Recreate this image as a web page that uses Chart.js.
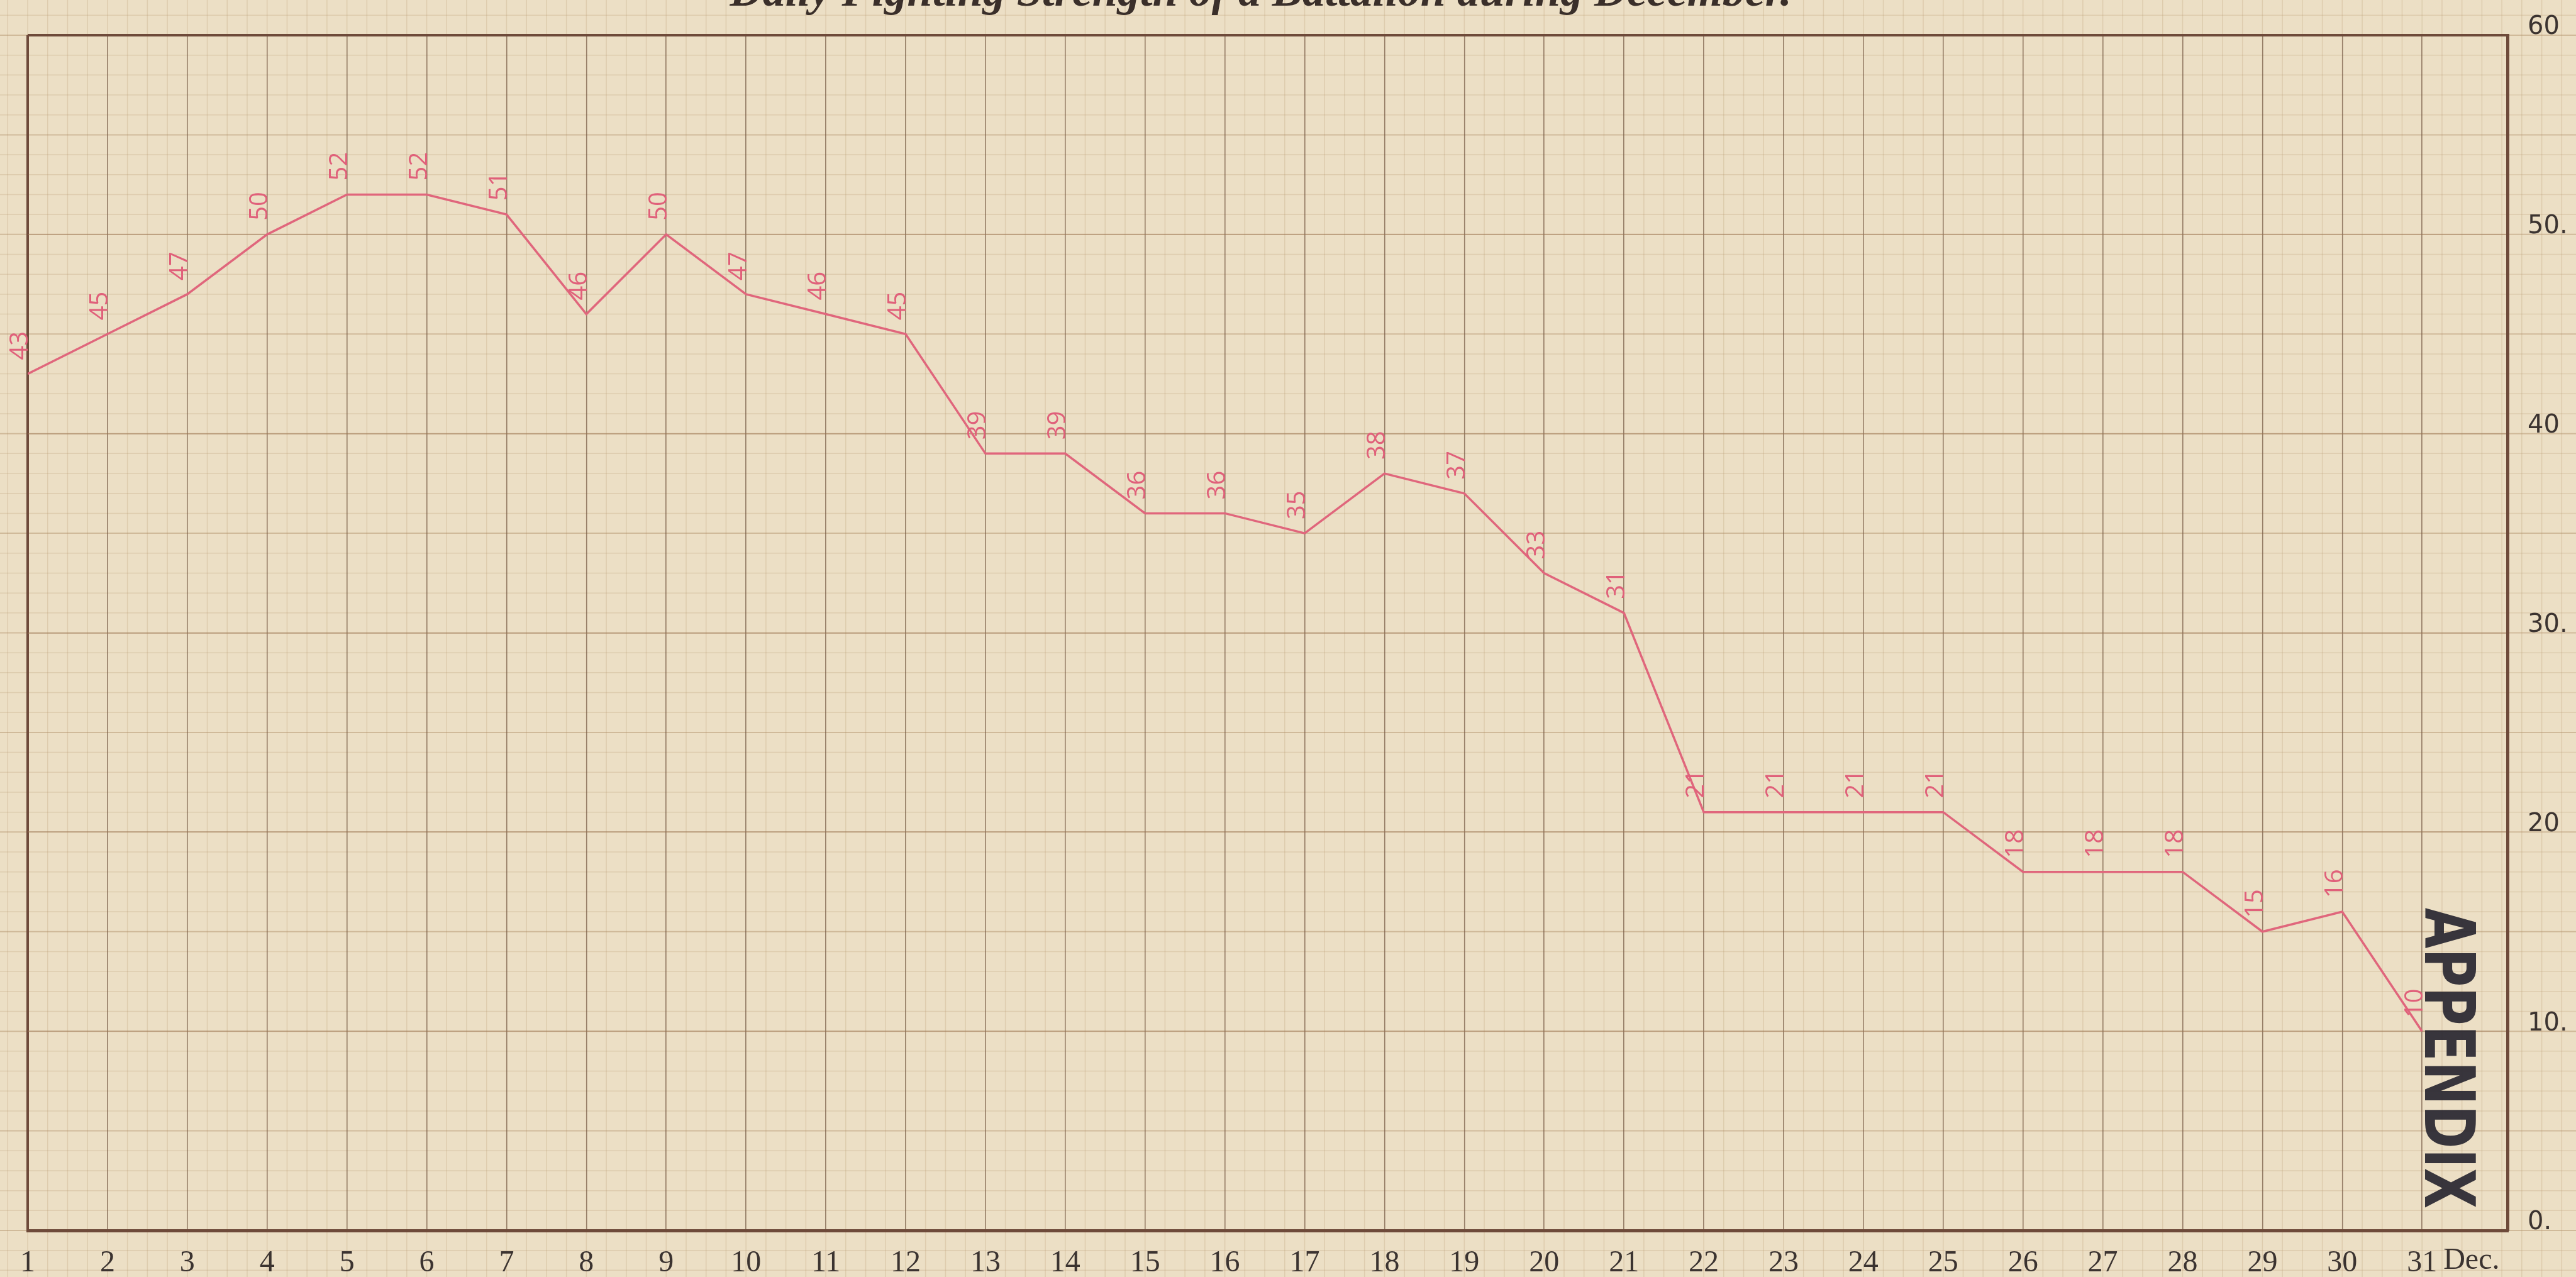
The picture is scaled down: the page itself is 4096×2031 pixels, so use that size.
<!DOCTYPE html>
<html>
<head>
<meta charset="utf-8">
<script src="https://cdn.jsdelivr.net/npm/chart.js@4.4.1/dist/chart.umd.min.js"></script>
<style>
    html, body { margin: 0; padding: 0; background: #ecdec4; overflow: hidden; }
    canvas { display: block; }
</style>
</head>
<body>
<canvas id="grafica" width="4096" height="2031"></canvas>
<script>
// datos (dias de diciembre)
const dias = [1, 2, 3, 4, 5, 6, 7, 8, 9, 10, 11, 12, 13, 14, 15, 16, 17, 18, 19, 20, 21, 22, 23, 24, 25, 26, 27, 28, 29, 30, 31];
const efectivos = [43, 45, 47, 50, 52, 52, 51, 46, 50, 47, 46, 45, 39, 39, 36, 36, 35, 38, 37, 33, 31, 21, 21, 21, 21, 18, 18, 18, 15, 16, 10];
const etiquetasDias = ['1', '2', '3', '4', '5', '6', '7', '8', '9', '10', '11', '12', '13', '14', '15', '16', '17', '18', '19', '20', '21', '22', '23', '24', '25', '26', '27', '28', '29', '30', '31'];
const mes = 'Dec.';
const valoresEjeY = [0, 10, 20, 30, 40, 50, 60];
const etiquetasEjeY = ['0.', '10.', '20', '30.', '40', '50.', '60'];
const titulo = 'Daily Fighting Strength of a Battalion during December.';
const sello = 'APPENDIX';

const tinta = '#6e4a3a';
const rojo = '#e0667c';

// papel cuadriculado detras y fuera del area del grafico
const papel = {
    id: 'papel',
    beforeDraw(chart) {
        const { ctx, width, height } = chart;
        const { x, y } = chart.scales;
        ctx.save();
        ctx.fillStyle = '#ecdfc5';
        ctx.fillRect(0, 0, width, height);
        ctx.strokeStyle = 'rgba(180, 150, 110, 0.26)';
        ctx.lineWidth = 1.5;
        for (let v = 0; v <= 33; v += 0.25) {
            const px = x.getPixelForValue(v);
            if (px < 0 || px > width) continue;
            ctx.beginPath();
            ctx.moveTo(px, 0);
            ctx.lineTo(px, height);
            ctx.stroke();
        }
        for (let v = -3; v <= 62; v++) {
            const py = y.getPixelForValue(v);
            if (py < 0 || py > height) continue;
            const fuerte = v % 5 === 0;
            ctx.strokeStyle = fuerte ? 'rgba(170, 135, 95, 0.42)' : 'rgba(180, 150, 110, 0.26)';
            ctx.lineWidth = fuerte ? 2 : 1.5;
            ctx.beginPath();
            ctx.moveTo(0, py);
            ctx.lineTo(width, py);
            ctx.stroke();
        }
        // titulo cortado arriba
        ctx.fillStyle = '#3a2f2a';
        ctx.font = 'italic bold 72px "Liberation Serif", serif';
        ctx.textAlign = 'center';
        ctx.textBaseline = 'alphabetic';
        ctx.fillText(titulo, x.getPixelForValue(16.45), 9, 2820);
        ctx.restore();
    }
};

// numeros rojos encima de cada punto, el mes y el sello
const anotaciones = {
    id: 'anotaciones',
    afterDatasetsDraw(chart) {
        const { ctx } = chart;
        const puntos = chart.getDatasetMeta(0).data;
        ctx.save();
        ctx.fillStyle = '#e0607a';
        ctx.font = '40px "Open Sans", "DejaVu Sans", sans-serif';
        ctx.textAlign = 'left';
        ctx.textBaseline = 'middle';
        puntos.forEach((p, i) => {
            ctx.save();
            ctx.translate(p.x - 11, p.y - 22);
            ctx.rotate(-Math.PI / 2);
            ctx.fillText(String(efectivos[i]), 0, 0);
            ctx.restore();
        });
        ctx.restore();
    },
    afterDraw(chart) {
        const { ctx } = chart;
        const { x, y } = chart.scales;
        ctx.save();
        // "Dec." despues del 31
        ctx.font = '48px "Liberation Serif", serif';
        ctx.fillStyle = '#3b3330';
        ctx.textAlign = 'left';
        ctx.textBaseline = 'top';
        const p31 = x.getPixelForValue(31);
        const ancho31 = ctx.measureText(etiquetasDias[30]).width;
        ctx.fillText(mes, p31 + ancho31 / 2 + 10, chart.chartArea.bottom + 24);

        // sello APPENDIX
        const sx = x.getPixelForValue(31.35);
        const sy = y.getPixelForValue(16.2);
        const largo = y.getPixelForValue(1.1) - sy;
        ctx.translate(sx, sy);
        ctx.rotate(Math.PI / 2);
        ctx.font = 'bold 110px "DejaVu Sans", sans-serif';
        ctx.fillStyle = 'rgba(40, 38, 48, 0.92)';
        ctx.textBaseline = 'alphabetic';
        ctx.fillText(sello, 0, 40, largo);
        ctx.restore();
    }
};

const grafica = new Chart(document.getElementById('grafica'), {
    type: 'line',
    data: {
        datasets: [{
            data: dias.map((d, i) => ({ x: d, y: efectivos[i] })),
            borderColor: rojo,
            borderWidth: 3.5,
            tension: 0,
            pointRadius: 0,
            fill: false
        }]
    },
    options: {
        responsive: false,
        animation: false,
        layout: { padding: { left: 44, top: 38, right: 0, bottom: 0 } },
        plugins: {
            legend: { display: false },
            tooltip: { enabled: false }
        },
        scales: {
            x: {
                type: 'linear',
                min: 1,
                max: 32.07,
                afterBuildTicks: s => { s.ticks = dias.map(d => ({ value: d })); },
                afterFit: s => { s.height = 74; },
                ticks: {
                    callback: v => etiquetasDias[dias.indexOf(v)] ?? '',
                    font: { family: '"Liberation Serif", serif', size: 48 },
                    color: '#3b3330',
                    padding: 24,
                    maxRotation: 0,
                    minRotation: 0,
                    autoSkip: false
                },
                grid: {
                    color: c => c.tick && c.tick.value === 1 ? tinta : 'rgba(110, 85, 65, 0.65)',
                    lineWidth: c => c.tick && c.tick.value === 1 ? 4 : 1.6,
                    drawTicks: false
                },
                border: { color: tinta, width: 5 }
            },
            y: {
                position: 'right',
                min: 0,
                max: 60,
                afterBuildTicks: s => { s.ticks = valoresEjeY.map(v => ({ value: v })); },
                afterFit: s => { s.width = 109; },
                ticks: {
                    callback: v => etiquetasEjeY[valoresEjeY.indexOf(v)] ?? '',
                    font: { family: '"DejaVu Sans", sans-serif', size: 40 },
                    color: '#3b3330',
                    padding: 32,
                    labelOffset: -12
                },
                grid: {
                    color: c => {
                        if (!c.tick) return 'rgba(0,0,0,0)';
                        if (c.tick.value === 60) return tinta;
                        if (c.tick.value === 0) return 'rgba(0,0,0,0)';
                        return 'rgba(160, 125, 90, 0.42)';
                    },
                    lineWidth: c => c.tick && c.tick.value === 60 ? 4 : 2,
                    drawTicks: false
                },
                border: { color: tinta, width: 5 }
            }
        }
    },
    plugins: [papel, anotaciones]
});
</script>
</body>
</html>
